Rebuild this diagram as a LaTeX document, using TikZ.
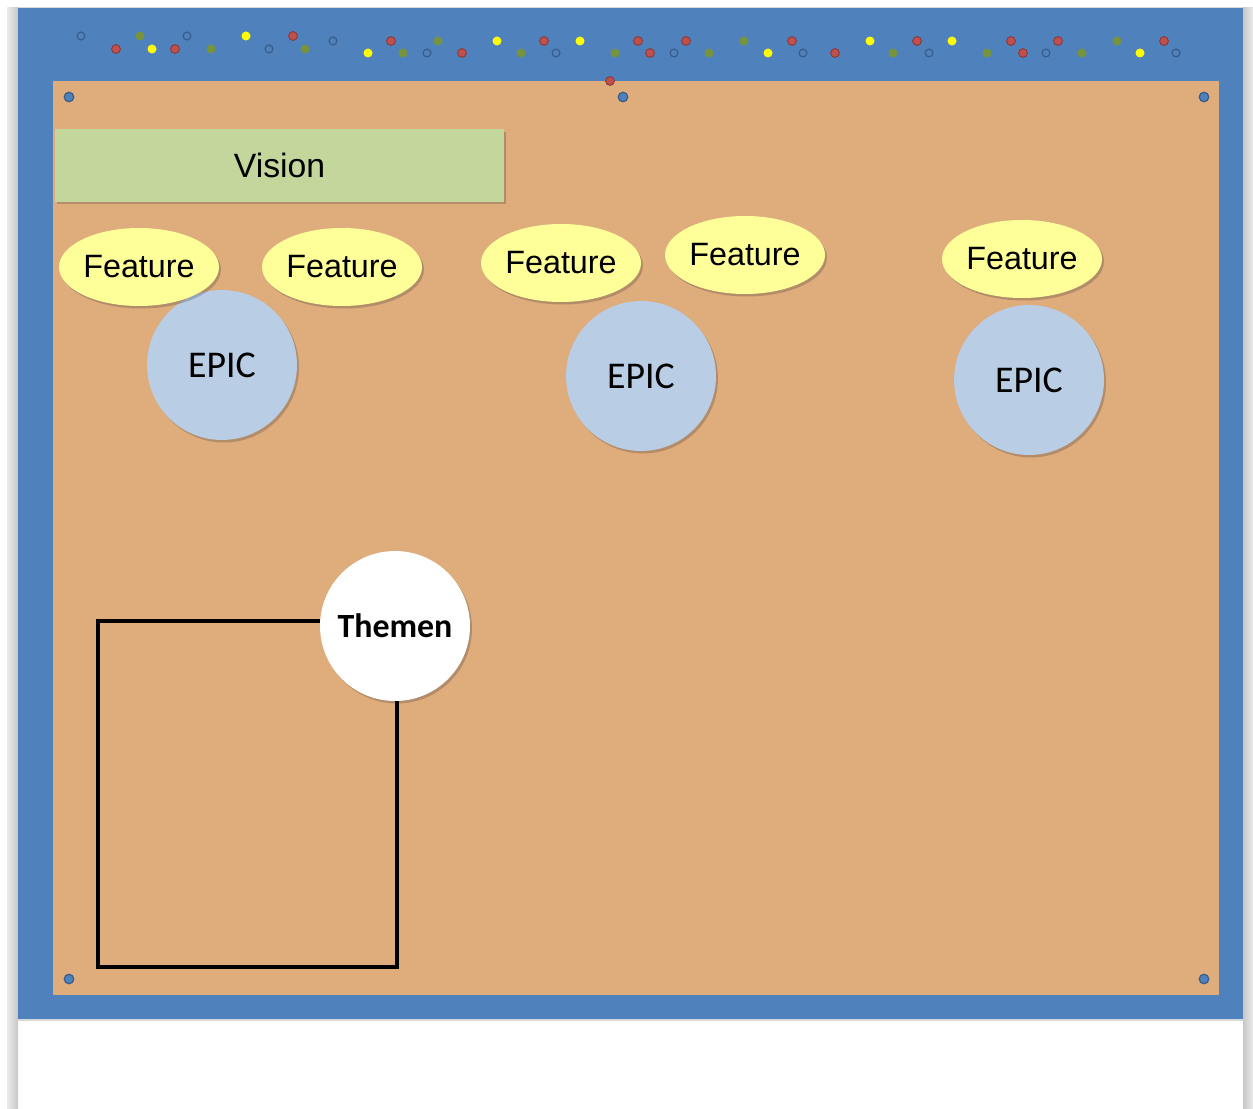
\documentclass[tikz,border=0pt]{standalone}
\usepackage{fontspec}
\setmainfont{Liberation Sans}
\newfontfamily\calibri{Carlito}
\usetikzlibrary{shapes.geometric,shadows}

\definecolor{boardblue}{HTML}{4F81BD}
\definecolor{pinline}{HTML}{385D8A}
\definecolor{cork}{HTML}{DFAC7C}
\definecolor{visiongreen}{HTML}{C3D69B}
\definecolor{featyellow}{HTML}{FFFF99}
\definecolor{epicblue}{HTML}{B9CDE5}
\definecolor{dotred}{HTML}{C0504D}
\definecolor{dotredline}{HTML}{8C3836}
\definecolor{dotgreen}{HTML}{77933C}
\definecolor{dotyellow}{HTML}{FFFF00}

\tikzset{
  softshadow/.style={drop shadow={shadow xshift=0.04cm, shadow yshift=-0.05cm, opacity=0.25, fill=black!80}},
  visionbox/.style={rectangle, fill=visiongreen, inner sep=0pt,
    minimum width=8.98cm, minimum height=1.46cm, softshadow,
    font=\fontsize{19.2}{22}\selectfont},
  featurebox/.style={ellipse, fill=featyellow, inner sep=0pt,
    minimum width=3.2cm, minimum height=1.56cm, softshadow,
    font=\fontsize{18.4}{21}\selectfont},
  epicbox/.style={circle, fill=epicblue, inner sep=0pt,
    minimum size=3.0cm, softshadow,
    font=\calibri\fontsize{21.5}{24}\selectfont},
  themebox/.style={circle, fill=white, inner sep=0pt,
    minimum size=3.0cm, softshadow,
    font=\calibri\bfseries\fontsize{19.3}{22}\selectfont},
  pin/.style={circle, fill=boardblue, draw=pinline, line width=0.7pt,
    inner sep=0pt, minimum size=0.19cm},
  opendot/.style={draw=pinline, line width=0.7pt},
  reddot/.style={fill=dotred, draw=dotredline, line width=0.5pt},
  greendot/.style={fill=dotgreen},
  yellowdot/.style={fill=dotyellow},
  frameline/.style={line width=2pt, black}
}

\begin{document}
\begin{tikzpicture}[x=0.02cm, y=-0.02cm]
  \useasboundingbox (0,0) rectangle (1253,1108);
  \fill[white] (0,0) rectangle (1253,1108);

  % side edges of the page
  \shade[left color=black!8, right color=black!22] (7,8) rectangle (18,1108);
  \shade[left color=black!22, right color=black!8] (1243,8) rectangle (1253,1108);
  \fill[black!15] (18,7) rectangle (1243,8);
  \fill[black!15] (18,1019) rectangle (1243,1021);

  % blue frame and cork board
  \fill[boardblue] (18,8) rectangle (1243,1019);
  \fill[cork] (53,81) rectangle (1219,995);

  % coloured magnets along the top
  \foreach \p in {(81,36),(187,36),(269,49),(333,41),(427,53),(556,53),(674,53),(803,53),(929,53),(1046,53),(1176,53)}
    \draw[opendot] \p circle[radius=0.078cm];
  \foreach \p in {(116,49),(175,49),(293,36),(391,41),(462,53),(544,41),(638,41),(650,53),(686,41),(792,41),(835,53),(917,41),(1011,41),(1023,53),(1058,41),(1164,41),(610,81)}
    \filldraw[reddot] \p circle[radius=0.088cm];
  \foreach \p in {(140,36),(211,49),(305,49),(403,53),(438,41),(521,53),(615,53),(709,53),(744,41),(893,53),(987,53),(1082,53),(1117,41)}
    \fill[greendot] \p circle[radius=0.09cm];
  \foreach \p in {(152,49),(246,36),(368,53),(497,41),(580,41),(768,53),(870,41),(952,41),(1140,53)}
    \fill[yellowdot] \p circle[radius=0.09cm];

  % pins in the board corners
  \node[pin] (pinA) at (69,97) {};
  \node[pin] (pinB) at (623,97) {};
  \node[pin] (pinC) at (1204,97) {};
  \node[pin] (pinD) at (69,979) {};
  \node[pin] (pinE) at (1204,979) {};

  % vision
  \node[visionbox] (vision) at (279.5,165.5) {Vision};

  % epics
  \node[epicbox] (epic1) at (222,365) {EPIC};
  \node[epicbox] (epic2) at (641,376) {EPIC};
  \node[epicbox] (epic3) at (1029,380) {EPIC};

  % features
  \node[featurebox] (feat1) at (139,267) {Feature};
  \node[featurebox] (feat2) at (342,267) {Feature};
  \node[featurebox] (feat3) at (561,263) {Feature};
  \node[featurebox] (feat4) at (745,255) {Feature};
  \node[featurebox] (feat5) at (1022,259) {Feature};

  % themes area
  \node[themebox] (themen) at (395,626) {Themen};
  \coordinate (tl) at (98,621);
  \coordinate (br) at (397,967);
  \draw[frameline, line join=miter] (themen.west |- tl) -- (tl) |- (br) -- (themen.south -| br);
\end{tikzpicture}
\end{document}
